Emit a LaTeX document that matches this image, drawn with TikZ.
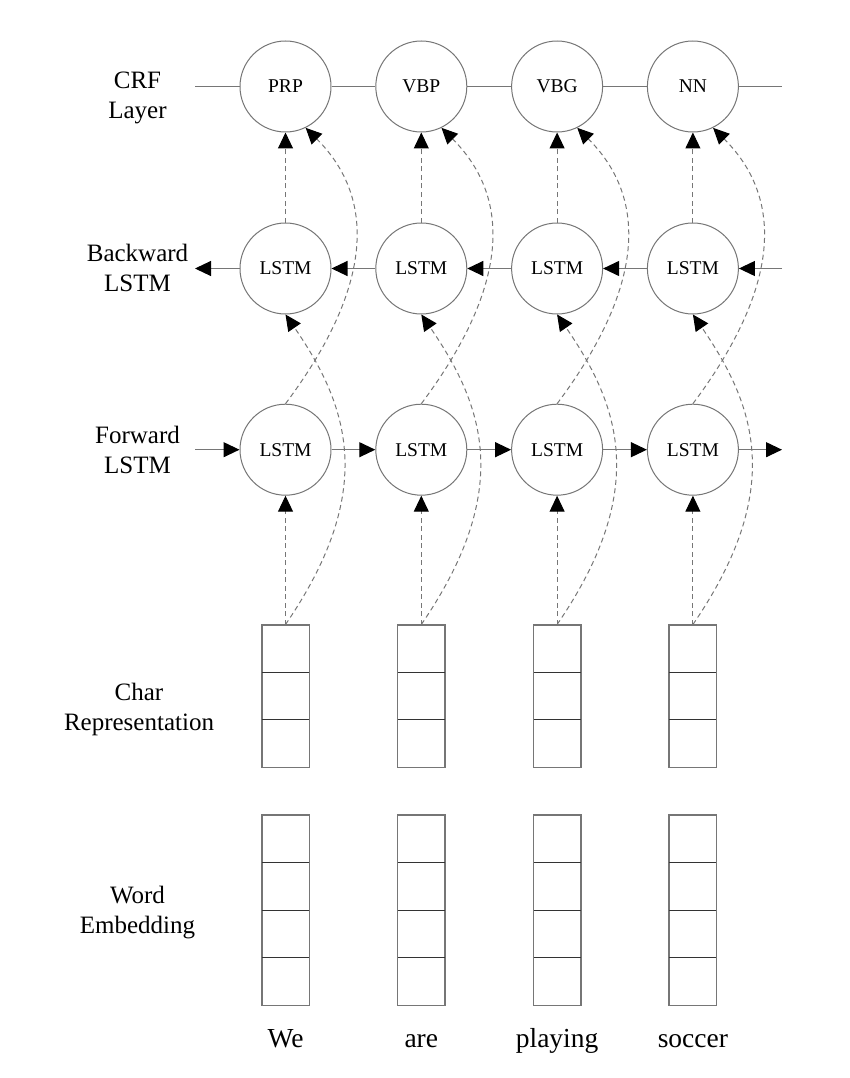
\documentclass[tikz,border=0pt]{standalone}
\usepackage{fontspec}
\setmainfont{Liberation Serif}
\usetikzlibrary{arrows.meta,calc}
\definecolor{lgray}{HTML}{767676}
\begin{document}
\begin{tikzpicture}[x=1pt,y=-1pt,
  cell/.style={circle,draw=lgray,line width=1pt,minimum size=91pt,inner sep=0pt,fill=white,font=\fontsize{19.5}{22}\selectfont},
  conn/.style={draw=lgray,line width=1.1pt},
  arr/.style={-{Triangle[length=16pt,width=15pt,color=black]}},
  dsh/.style={draw=lgray,line width=1pt,dash pattern=on 5pt off 3.5pt},
  lab/.style={font=\fontsize{25}{30}\selectfont,inner sep=0pt,anchor=base},
  wordlab/.style={font=\fontsize{27.5}{33}\selectfont,inner sep=0pt,anchor=base},
  vecbox/.style={rectangle,draw=lgray,line width=1pt,minimum width=47pt,inner sep=0pt},
  divider/.style={draw=black!80,line width=0.9pt}]
\useasboundingbox (0,0) rectangle (850,1078);

% row labels
\node[lab] (lcrf) at (137.5,88.3) {\begin{tabular}[t]{@{}c@{}}CRF\\Layer\end{tabular}};
\node[lab] (lbw) at (137.5,261.7) {\begin{tabular}[t]{@{}c@{}}Backward\\LSTM\end{tabular}};
\node[lab] (lfw) at (137.5,443) {\begin{tabular}[t]{@{}c@{}}Forward\\LSTM\end{tabular}};
\node[lab] (lch) at (139,700.7) {\begin{tabular}[t]{@{}c@{}}Char\\Representation\end{tabular}};
\node[lab] (lwe) at (137.5,903.3) {\begin{tabular}[t]{@{}c@{}}Word\\Embedding\end{tabular}};

% nodes
\foreach \i/\x/\t/\w in {1/285.5/PRP/We,2/421.3/VBP/are,3/557.1/VBG/playing,4/692.9/NN/soccer}{
  \node[cell] (crf\i) at (\x,86.5) {\t};
  \node[cell] (b\i) at (\x,268.5) {LSTM};
  \node[cell] (f\i) at (\x,449.7) {LSTM};
  \node[vecbox,minimum height=142pt] (c\i) at (\x,696) {};
  \node[vecbox,minimum height=190pt] (e\i) at (\x,910) {};
  \node[wordlab] (w\i) at (\x,1047) {\w};
  \draw[divider] ($(c\i.north west)!1/3!(c\i.south west)$) -- ($(c\i.north east)!1/3!(c\i.south east)$);
  \draw[divider] ($(c\i.north west)!2/3!(c\i.south west)$) -- ($(c\i.north east)!2/3!(c\i.south east)$);
  \draw[divider] ($(e\i.north west)!1/4!(e\i.south west)$) -- ($(e\i.north east)!1/4!(e\i.south east)$);
  \draw[divider] ($(e\i.north west)!2/4!(e\i.south west)$) -- ($(e\i.north east)!2/4!(e\i.south east)$);
  \draw[divider] ($(e\i.north west)!3/4!(e\i.south west)$) -- ($(e\i.north east)!3/4!(e\i.south east)$);
  \draw[conn] (c\i.north west) rectangle (c\i.south east);
  \draw[conn] (e\i.north west) rectangle (e\i.south east);
}

% free ends
\coordinate (crfL) at (195,86.5);
\coordinate (crfR) at (782,86.5);
\coordinate (bL) at (195,268.5);
\coordinate (bR) at (782,268.5);
\coordinate (fL) at (195,449.7);
\coordinate (fR) at (782,449.7);

% CRF chain
\draw[conn] (crfL) -- (crf1) -- (crf2) -- (crf3) -- (crf4) -- (crfR);

% backward chain
\draw[conn,arr] (bR) -- (b4);
\draw[conn,arr] (b4) -- (b3);
\draw[conn,arr] (b3) -- (b2);
\draw[conn,arr] (b2) -- (b1);
\draw[conn,arr] (b1) -- (bL);

% forward chain
\draw[conn,arr] (fL) -- (f1);
\draw[conn,arr] (f1) -- (f2);
\draw[conn,arr] (f2) -- (f3);
\draw[conn,arr] (f3) -- (f4);
\draw[conn,arr] (f4) -- (fR);

% dashed connectors
\foreach \i in {1,2,3,4}{
  \draw[dsh,arr] (c\i.north) -- (f\i.south);
  \draw[dsh,arr] (b\i.north) -- (crf\i.south);
  \draw[dsh,arr] (c\i.north) .. controls +(92.5,-135) and +(62.5,91) .. (b\i.south);
  \draw[dsh,arr] (f\i.north) .. controls +(78,-104) and +(78,78) .. (crf\i.-64);
}
\end{tikzpicture}
\end{document}
